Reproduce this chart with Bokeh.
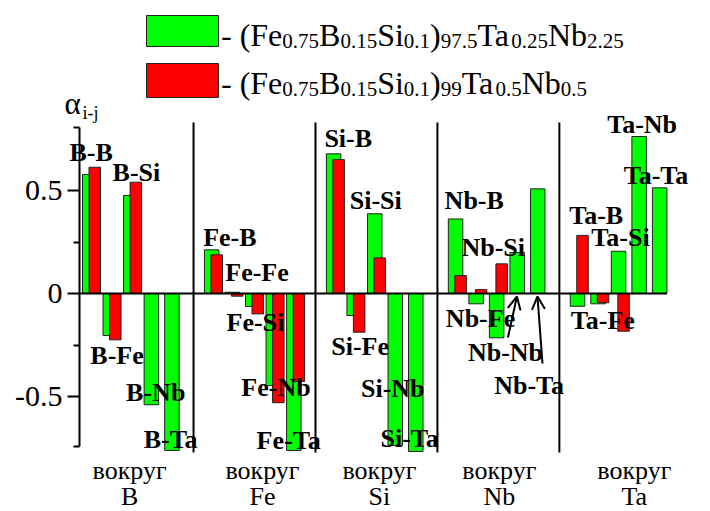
import numpy as np
from bokeh.plotting import figure
from bokeh.models import Range1d, ColumnDataSource, LabelSet, FixedTicker, Arrow, OpenHead
from bokeh.embed import file_html
from bokeh.resources import INLINE

# ---------------- data ----------------
centers = ["B", "Fe", "Si", "Nb", "Ta"]      # "вокруг X"
partners = ["B", "Fe", "Si", "Nb", "Ta"]
group_word = "вокруг"

# alloy 1 (green): (Fe0.75B0.15Si0.1)97.5Ta0.25Nb2.25
green_B = [0.578, -0.204, 0.476, -0.540, -0.762]
green_Fe = [0.212, 0.006, -0.063, -0.447, -0.762]
green_Si = [0.678, -0.107, 0.387, -0.738, -0.767]
green_Nb = [0.362, -0.050, -0.215, 0.199, 0.508]
green_Ta = [-0.062, -0.050, 0.205, 0.762, 0.513]
# alloy 2 (red): (Fe0.75B0.15Si0.1)99Ta0.5Nb0.5   (nan = no bar)
nan = float("nan")
red_B = [0.613, -0.225, 0.540, nan, nan]
red_Fe = [0.188, -0.013, -0.099, -0.530, -0.427]
red_Si = [0.650, -0.188, 0.173, nan, nan]
red_Nb = [0.087, 0.019, 0.144, nan, nan]
red_Ta = [0.282, -0.045, -0.183, nan, nan]

alloy1_runs = [("- (Fe", 0), ("0.75", 1), ("B", 0), ("0.15", 1), ("Si", 0), ("0.1", 1),
               (")", 0), ("97.5", 1), ("Ta", 0), ("0.25", 1), ("Nb", 0), ("2.25", 1)]
alloy2_runs = [("- (Fe", 0), ("0.75", 1), ("B", 0), ("0.15", 1), ("Si", 0), ("0.1", 1),
               (")", 0), ("99", 1), ("Ta", 0), ("0.5", 1), ("Nb", 0), ("0.5", 1)]

y_ticks = [-0.5, 0, 0.5]
y_tick_labels = ["-0.5", "0", "0.5"]
y_minor = [-0.744, -0.25, 0.25, 0.804]

# ---------------- layout (canvas pixels) ----------------
W, H = 710, 511
AXIS_X = 79.0       # y axis position
FRAME_R = 702.0
ZERO_Y = 293.0
PPY = 206.0         # px per unit of alpha
PPU = 20.54         # px per slot
G = 121.94 / PPU    # group step in slots
FIRST = 91.0        # first slot centre

X_START = -FIRST / PPU          # frame starts at canvas x = 0
X_END = X_START + FRAME_R / PPU
Y_START = (ZERO_Y - H) / PPY
Y_END = ZERO_Y / PPY


def px2x(px):
    return X_START + px / PPU


def px2y(py):
    return (ZERO_Y - py) / PPY


def slot_x(g, j):
    return g * G + j


GREEN_DX, GREEN_W = -1.75 / PPU, 14.5 / PPU
RED_DX, RED_W = 3.25 / PPU, 11.5 / PPU

greens = [green_B, green_Fe, green_Si, green_Nb, green_Ta]
reds = [red_B, red_Fe, red_Si, red_Nb, red_Ta]

xs, gv, rv, txt = [], [], [], []
for g, c in enumerate(centers):
    for j, pname in enumerate(partners):
        xs.append(slot_x(g, j))
        gv.append(greens[g][j])
        rv.append(reds[g][j])
        txt.append(f"{c}-{pname}")
xs = np.array(xs)

# label offsets (px) relative to slot centre / zero line
label_dx = [-22, -21.7, -20, -27, -30,
            -10.3, -8.7, -28, -33.7, -39,
            -11, -24.7, -26.7, -36, -37,
            -12.7, -32, -37, -51, -45.3,
            -10, -29, -29, -33.7, -37.7]
label_dy = [133, -70, 113, -107, -154.5,
            48, 12.3, -37.7, -102, -155.3,
            146.3, -61, 84.7, -103.7, -153.7,
            84.7, -33.7, 38, -67, -100.5,
            69.7, -35.3, 47.3, 160.3, 109.7]

p = figure(width=W, height=H, x_range=Range1d(X_START, X_END), y_range=Range1d(Y_START, Y_END),
           output_backend="svg", toolbar_location=None, x_axis_location=None,
           min_border_left=0, min_border_right=int(W - FRAME_R),
           min_border_top=0, min_border_bottom=0, outline_line_color=None)
p.grid.visible = False
p.background_fill_color = "white"

src = ColumnDataSource(dict(xg=xs + GREEN_DX, xr=xs + RED_DX, green=np.array(gv, dtype=float),
                            red=np.array(rv, dtype=float)))
p.vbar(x="xg", top="green", bottom=0, width=GREEN_W, source=src,
       fill_color="#00ff00", line_color="#222222", line_width=1)
p.vbar(x="xr", top="red", bottom=0, width=RED_W, source=src,
       fill_color="#ff0000", line_color="#222222", line_width=1)

# zero line
last_right = slot_x(4, 4) + GREEN_DX + GREEN_W / 2
p.segment(x0=[px2x(AXIS_X)], y0=[0], x1=[last_right], y1=[0], line_color="black", line_width=2)

# group separators
sep_x = [slot_x(g, 4) + (G - 4) / 2 for g in range(4)]
p.segment(x0=sep_x, y0=[px2y(122)] * 4, x1=sep_x, y1=[px2y(452)] * 4,
          line_color="black", line_width=2)

# y axis (kept in the left panel, drawn at the axis position inside the frame)
ax = p.yaxis[0]
ax.fixed_location = px2x(AXIS_X)
ax.bounds = (y_minor[0], y_minor[-1])
ax.ticker = FixedTicker(ticks=y_ticks, minor_ticks=y_minor)
ax.major_label_overrides = {t: l for t, l in zip(y_ticks, y_tick_labels)}
ax.axis_line_width = 2
ax.major_tick_line_width = 2
ax.minor_tick_line_width = 2
ax.major_tick_out = 12
ax.major_tick_in = 0
ax.minor_tick_out = 6
ax.minor_tick_in = 0
ax.major_label_standoff = 5
ax.major_label_text_font = "Liberation Serif"
ax.major_label_text_font_size = "30px"
ax.major_label_text_color = "black"

SERIF = "Liberation Serif"

# bar labels
lsrc = ColumnDataSource(dict(x=xs, y=np.zeros(len(xs)), text=txt, dx=label_dx, dy=label_dy))
p.add_layout(LabelSet(x="x", y="y", text="text", x_offset="dx", y_offset="dy", source=lsrc,
                      text_font=SERIF, text_font_style="bold", text_font_size="26px",
                      text_align="left", text_baseline="alphabetic", text_color="black"))

# arrows for Nb-Nb and Nb-Ta
for j, (tdx, tpy, hdx) in zip([3, 4], [(-11, 337, -2), (3, 363, -2)]):
    x0 = slot_x(3, j)
    p.add_layout(Arrow(end=OpenHead(size=13, line_width=2, line_color="black"),
                       x_start=x0 + tdx / PPU, y_start=px2y(tpy),
                       x_end=x0 + hdx / PPU, y_end=px2y(296),
                       line_width=2, line_color="black"))

# group labels
grp_dx = [-3, 8, 3, 1, 14]
gx = [slot_x(g, 2) + grp_dx[g] / PPU for g in range(5)]
gsrc = ColumnDataSource(dict(x=gx + gx, y=[px2y(478)] * 5 + [px2y(504)] * 5,
                             text=[group_word] * 5 + centers))
p.add_layout(LabelSet(x="x", y="y", text="text", source=gsrc, text_font=SERIF,
                      text_font_size="26px", text_align="center", text_baseline="alphabetic",
                      text_color="black"))

# legend
TW = {'-': .333, ' ': .25, '(': .333, ')': .333, 'F': .556, 'e': .444, 'B': .667, 'S': .556,
      'i': .278, 'T': .611, 'a': .444, 'N': .722, 'b': .5, '.': .25}
M_SIZE, S_SIZE = 32, 21
main_pc = dict(x=[], y=[], text=[])
sub_pc = dict(x=[], y=[], text=[])
for runs, base in [(alloy1_runs, 45), (alloy2_runs, 93)]:
    xp = 220.5
    for t, is_sub in runs:
        size = S_SIZE if is_sub else M_SIZE
        d = sub_pc if is_sub else main_pc
        d["x"].append(px2x(xp))
        d["y"].append(px2y(base + (2 if is_sub else 0)))
        d["text"].append(t)
        xp += sum(TW.get(ch, .5) for ch in t) * size

p.quad(left=[px2x(146)] * 2, right=[px2x(218)] * 2, top=[px2y(15), px2y(63)],
       bottom=[px2y(46), px2y(97)], fill_color=["#00ff00", "#ff0000"], line_color="#222222",
       line_width=1)
for d, size in [(main_pc, M_SIZE), (sub_pc, S_SIZE)]:
    p.add_layout(LabelSet(x="x", y="y", text="text", source=ColumnDataSource(d),
                          text_font=SERIF, text_font_size=f"{size}px",
                          text_align="left", text_baseline="alphabetic", text_color="black"))

# y-axis title alpha_{i-j}
asrc = ColumnDataSource(dict(x=[px2x(64), px2x(82)], y=[px2y(113), px2y(118)],
                             text=["α", "i-j"], size=["31px", "18px"]))
p.add_layout(LabelSet(x="x", y="y", text="text", text_font_size="size", source=asrc,
                      text_font=SERIF, text_align="left",
                      text_baseline="alphabetic", text_color="black"))

open("out.html", "w").write(file_html(p, INLINE))
